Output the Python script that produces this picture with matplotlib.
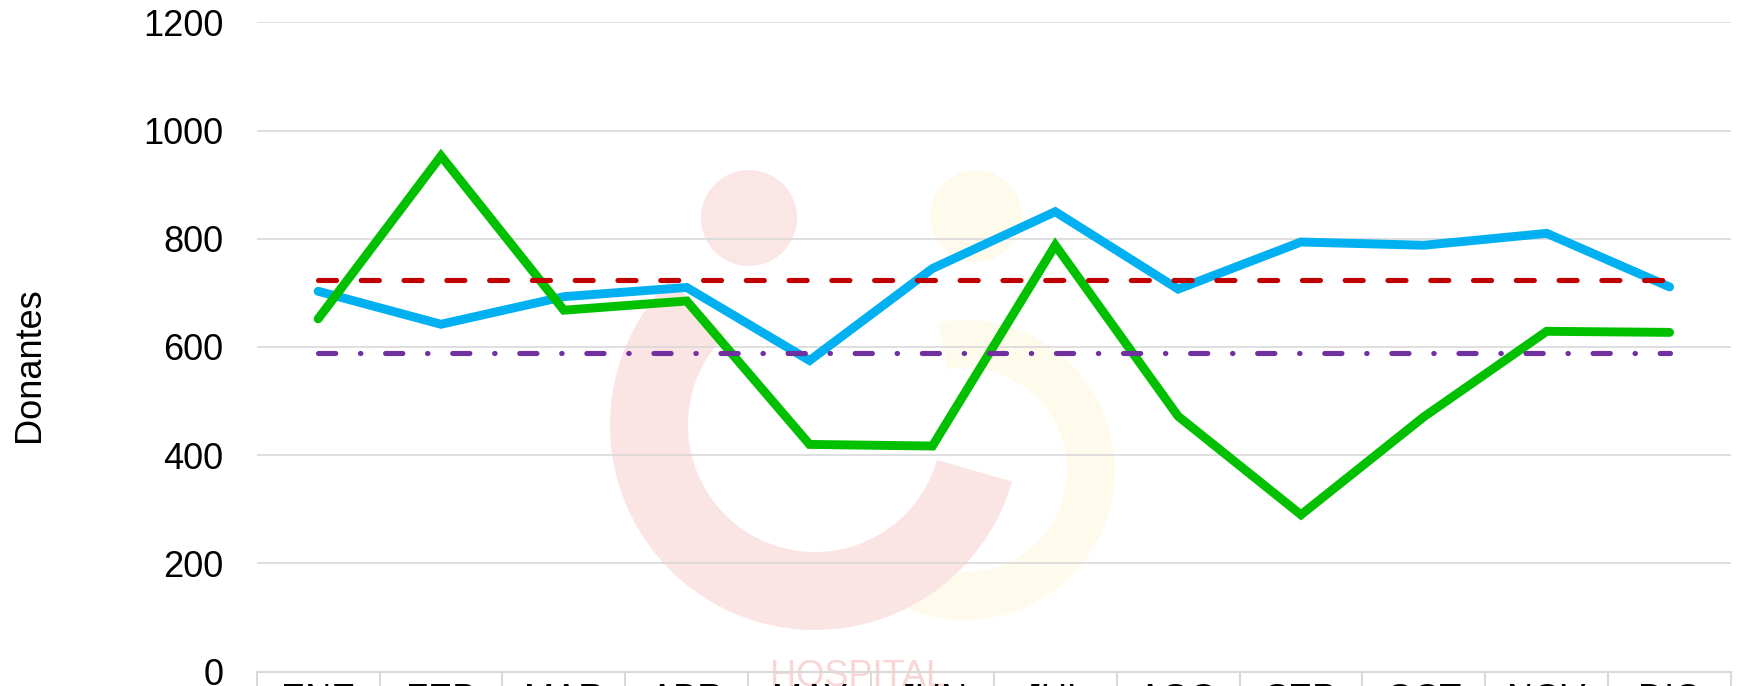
import matplotlib
matplotlib.use("Agg")
import matplotlib.pyplot as plt
from matplotlib.patches import Circle, Wedge
from matplotlib.transforms import blended_transform_factory

months = ["ENE", "FEB", "MAR", "ABR", "MAY", "JUN", "JUL", "AGO", "SEP", "OCT", "NOV", "DIC"]
serie_azul = [703, 642, 693, 710, 575, 745, 850, 707, 794, 788, 810, 711]
serie_verde = [652, 953, 668, 685, 420, 417, 788, 472, 290, 471, 629, 627]
promedio_rojo = [724] * 12
promedio_morado = [588] * 12
yticks = [0, 200, 400, 600, 800, 1000, 1200]

plt.rcParams["font.family"] = ["Liberation Sans", "DejaVu Sans"]
plt.rcParams["lines.scale_dashes"] = False

W, H = 1741, 686
fig = plt.figure(figsize=(W / 100, H / 100), dpi=100)

# faint watermark (background decoration)
wm = fig.add_axes([0, 0, 1, 1], zorder=0)
wm.set_xlim(0, W)
wm.set_ylim(0, H)
wm.axis("off")
wm.add_patch(Circle((749, H - 218), 48, color="#fbe6e6", lw=0))
wm.add_patch(Circle((976, H - 216), 46, color="#fffbec", lw=0))
wm.add_patch(Wedge((965, H - 470), 150, -115, 100, width=48, color="#fffbec", lw=0))
wm.add_patch(Wedge((815, H - 425), 205, 135, 344, width=78, color="#fbe4e4", lw=0))
wm.text(858, H - 659, "HOSPITAL", color="#f8d6d6", fontsize=26, ha="center", va="top")

ax = fig.add_axes([256.7 / W, (H - 671.7) / H, (1731 - 256.7) / W, (671.7 - 22.3) / H], zorder=1)
ax.patch.set_alpha(0)

x = list(range(len(months)))
ax.plot(x, serie_azul, color="#00B0F0", lw=6.4, solid_capstyle="round", solid_joinstyle="miter", zorder=3)
ax.plot(x, serie_verde, color="#00C000", lw=6.4, solid_capstyle="round", solid_joinstyle="miter", zorder=4)
ax.plot(x, promedio_rojo, color="#C00000", lw=3.7, dash_capstyle="round",
        linestyle=(0, (13.0, 17.8)), zorder=5)
ax.plot(x, promedio_morado, color="#7030A0", lw=3.7, dash_capstyle="round",
        linestyle=(0, (12.4, 17.8, 0.3, 17.8)), zorder=6)

ax.set_xlim(-0.5, len(months) - 0.5)
ax.set_ylim(0, 1200)
ax.set_yticks(yticks)
ax.set_yticklabels([str(v) for v in yticks], fontsize=26)
ax.set_xticks(x)
ax.set_xticklabels(months, fontsize=26)
ax.tick_params(axis="y", length=0, pad=24)
ax.tick_params(axis="x", length=0, pad=8)
ax.grid(axis="y", color="#d9d9d9", lw=1.2, zorder=1)
for s in ["top", "left", "right"]:
    ax.spines[s].set_visible(False)
ax.spines["bottom"].set_color("#d9d9d9")
ax.spines["bottom"].set_linewidth(1.5)

# category box separators below the axis
tr = blended_transform_factory(ax.transData, ax.transAxes)
bounds = [i - 0.5 for i in range(len(months) + 1)]
ax.vlines(bounds, -0.1, 0, transform=tr, color="#d9d9d9", lw=1.5, clip_on=False)

fig.text(29 / W, (H - 365) / H, "Donantes", rotation=90, fontsize=26, ha="center", va="center")

fig.savefig("out.png", dpi=100)
